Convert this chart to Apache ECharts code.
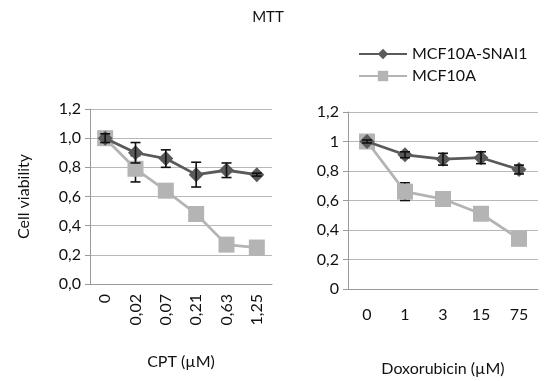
<!DOCTYPE html>
<html>
<head>
<meta charset="utf-8">
<script src="https://cdn.jsdelivr.net/npm/echarts@6/dist/echarts.min.js"></script>
<style>
  html, body { margin: 0; padding: 0; background: #fff; }
  #chart { width: 553px; height: 381px; }
</style>
</head>
<body>
<div id="chart"></div>
<script>
// CPT panel
var cptDoses = ['0', '0,02', '0,07', '0,21', '0,63', '1,25'];
var cptSnai1 = [1.0, 0.90, 0.86, 0.75, 0.78, 0.75];
var cptSnai1Err = [0.03, 0.07, 0.06, 0.085, 0.05, 0.01];
var cptMcf = [1.0, 0.79, 0.64, 0.48, 0.27, 0.25];
var cptMcfErr = [0.02, 0.09, 0.02, 0.02, 0.02, 0.02];

// Doxorubicin panel
var doxDoses = ['0', '1', '3', '15', '75'];
var doxSnai1 = [1.0, 0.91, 0.88, 0.89, 0.81];
var doxSnai1Err = [0.01, 0.02, 0.04, 0.04, 0.03];
var doxMcf = [1.0, 0.66, 0.61, 0.51, 0.34];
var doxMcfErr = [0.02, 0.06, 0.02, 0.02, 0.02];

var darkGrey = '#5a5a5a';
var lightGrey = '#b4b4b4';
var font = 'Lato';
var txt = '#111';

function errData(vals, errs) {
    var out = [];
    for (var i = 0; i < vals.length; i++) {
        out.push([i, vals[i] - errs[i], vals[i] + errs[i]]);
    }
    return out;
}

function renderErr(params, api) {
    var lo = api.coord([api.value(0), api.value(1)]);
    var hi = api.coord([api.value(0), api.value(2)]);
    var w = 5;
    var st = { stroke: '#111', lineWidth: 1.6 };
    return {
        type: 'group',
        children: [
            { type: 'line', shape: { x1: lo[0], y1: lo[1], x2: hi[0], y2: hi[1] }, style: st },
            { type: 'line', shape: { x1: lo[0] - w, y1: lo[1], x2: lo[0] + w, y2: lo[1] }, style: st },
            { type: 'line', shape: { x1: hi[0] - w, y1: hi[1], x2: hi[0] + w, y2: hi[1] }, style: st }
        ]
    };
}

function yAxis(idx, decimals) {
    return {
        gridIndex: idx, type: 'value', min: 0, max: 1.2, interval: 0.2,
        axisLine: { show: true, lineStyle: { color: '#9a9a9a' } },
        axisTick: { show: true, length: 5, lineStyle: { color: '#9a9a9a' } },
        splitLine: { lineStyle: { color: '#b8b8b8' } },
        axisLabel: {
            color: txt, fontFamily: font, fontSize: 16, margin: 9,
            formatter: function (v) {
                var s = decimals ? v.toFixed(1) : String(Math.round(v * 10) / 10);
                return s.replace('.', ',');
            }
        }
    };
}

var chart = echarts.init(document.getElementById('chart'));

chart.setOption({
    animation: false,
    title: {
        text: 'MTT', left: 263, top: 5, textAlign: 'center',
        textStyle: { fontFamily: font, fontSize: 15, fontWeight: 'normal', color: txt }
    },
    legend: {
        orient: 'vertical', left: 353, top: 41, itemWidth: 48, itemHeight: 13, itemGap: 6,
        textStyle: { fontFamily: font, fontSize: 16, color: txt },
        data: ['MCF10A-SNAI1', 'MCF10A']
    },
    grid: [
        { left: 90, right: 281, top: 109, bottom: 97 },
        { left: 348, right: 15, top: 112, bottom: 92 }
    ],
    xAxis: [
        {
            gridIndex: 0, type: 'category', data: cptDoses,
            name: 'CPT (\u00b5M)', nameLocation: 'middle', nameGap: 70,
            nameTextStyle: { fontFamily: font, fontSize: 16, color: txt },
            axisLine: { lineStyle: { color: '#9a9a9a' } },
            axisTick: { length: 5, lineStyle: { color: '#9a9a9a' } },
            axisLabel: { rotate: 90, interval: 0, fontFamily: font, fontSize: 16, color: txt, margin: 10 }
        },
        {
            gridIndex: 1, type: 'category', data: doxDoses,
            name: 'Doxorubicin (\u00b5M)', nameLocation: 'middle', nameGap: 72,
            nameTextStyle: { fontFamily: font, fontSize: 16, color: txt },
            axisLine: { lineStyle: { color: '#9a9a9a' } },
            axisTick: { length: 5, lineStyle: { color: '#9a9a9a' } },
            axisLabel: { interval: 0, fontFamily: font, fontSize: 16, color: txt, margin: 18 }
        }
    ],
    yAxis: [
        Object.assign(yAxis(0, true), {
            name: 'Cell viability', nameLocation: 'middle', nameGap: 58,
            nameTextStyle: { fontFamily: font, fontSize: 16, color: txt }
        }),
        yAxis(1, false)
    ],
    series: [
        {
            name: 'MCF10A', type: 'line', xAxisIndex: 0, yAxisIndex: 0, data: cptMcf,
            symbol: 'rect', symbolSize: 16, lineStyle: { color: lightGrey, width: 2.8 },
            itemStyle: { color: lightGrey }, z: 2
        },
        {
            name: 'MCF10A', type: 'line', xAxisIndex: 1, yAxisIndex: 1, data: doxMcf,
            symbol: 'rect', symbolSize: 16, lineStyle: { color: lightGrey, width: 2.8 },
            itemStyle: { color: lightGrey }, z: 2
        },
        {
            name: 'MCF10A-SNAI1', type: 'line', xAxisIndex: 0, yAxisIndex: 0, data: cptSnai1,
            symbol: 'diamond', symbolSize: [15, 15], lineStyle: { color: darkGrey, width: 2.8 },
            itemStyle: { color: darkGrey }, z: 3
        },
        {
            name: 'MCF10A-SNAI1', type: 'line', xAxisIndex: 1, yAxisIndex: 1, data: doxSnai1,
            symbol: 'diamond', symbolSize: [15, 15], lineStyle: { color: darkGrey, width: 2.8 },
            itemStyle: { color: darkGrey }, z: 3
        },
        { type: 'custom', xAxisIndex: 0, yAxisIndex: 0, renderItem: renderErr, data: errData(cptSnai1, cptSnai1Err), z: 4 },
        { type: 'custom', xAxisIndex: 0, yAxisIndex: 0, renderItem: renderErr, data: errData(cptMcf, cptMcfErr), z: 1 },
        { type: 'custom', xAxisIndex: 1, yAxisIndex: 1, renderItem: renderErr, data: errData(doxSnai1, doxSnai1Err), z: 4 },
        { type: 'custom', xAxisIndex: 1, yAxisIndex: 1, renderItem: renderErr, data: errData(doxMcf, doxMcfErr), z: 1 }
    ]
});
</script>
</body>
</html>
